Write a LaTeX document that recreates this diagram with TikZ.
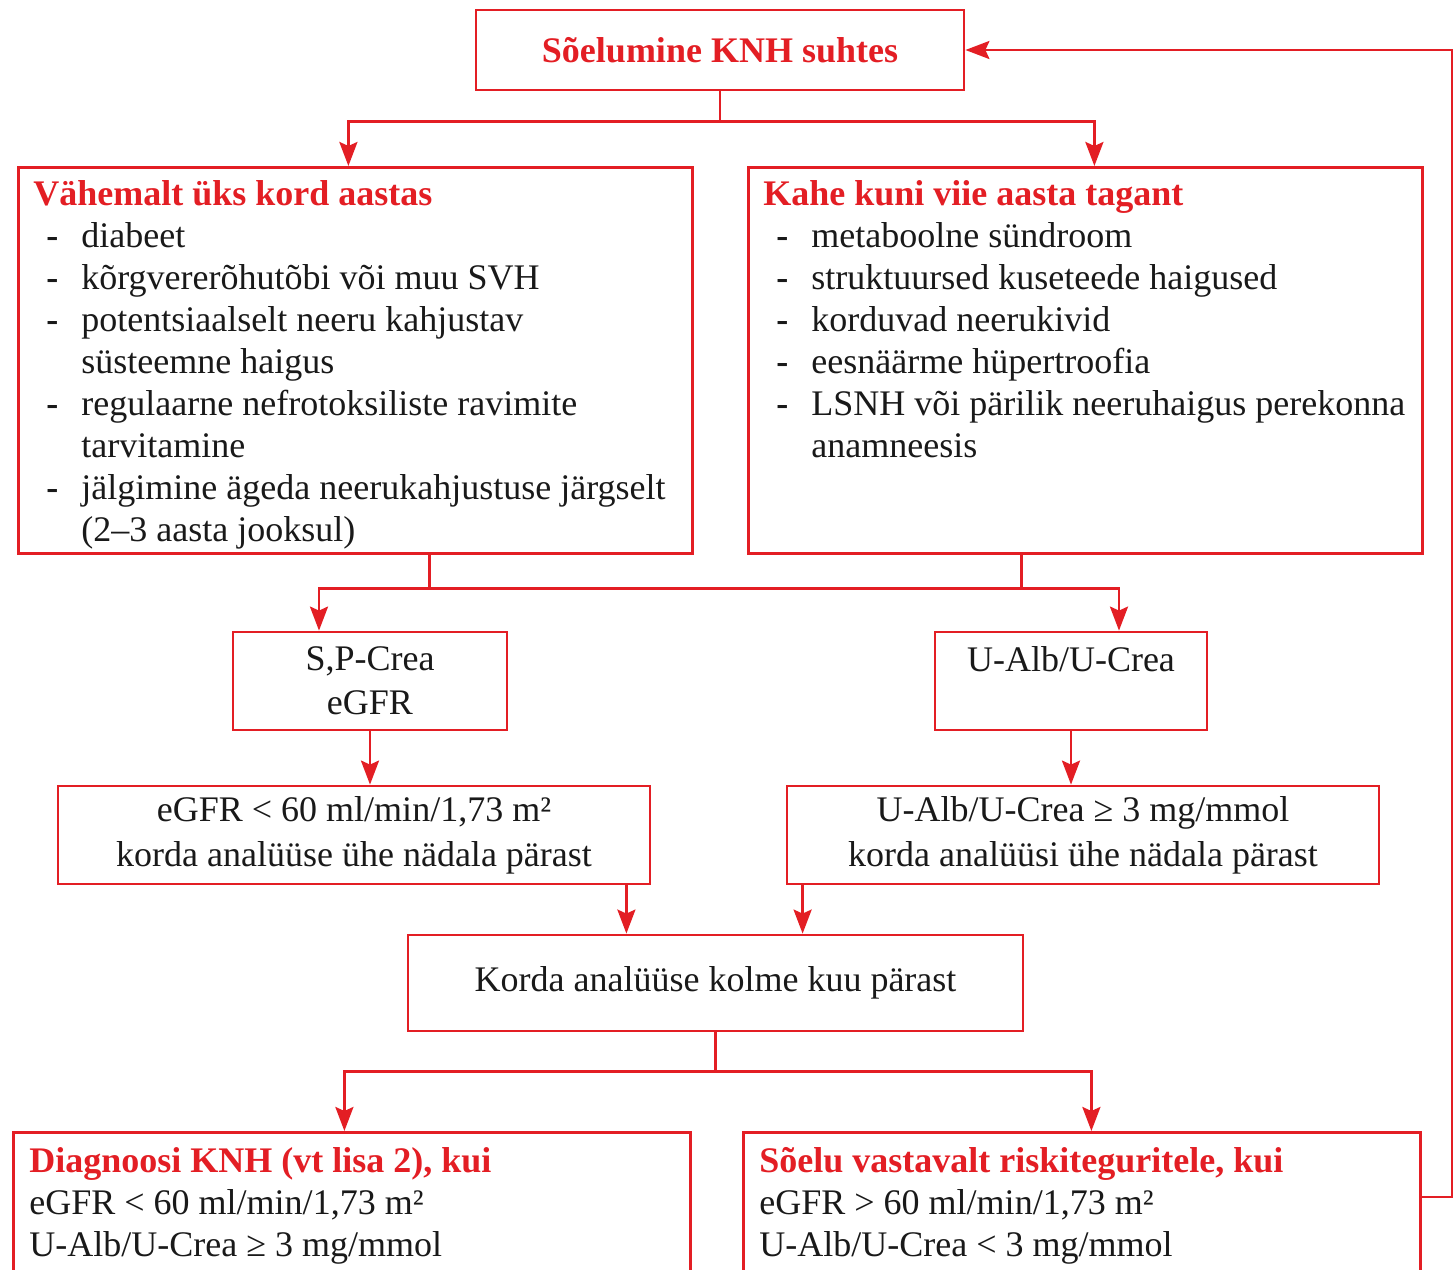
\documentclass[tikz,border=0pt]{standalone}
\usepackage{fontspec}
\setmainfont{Liberation Serif}
\usepackage{tikz}
\usetikzlibrary{arrows.meta,positioning,calc}
\definecolor{knhred}{RGB}{227,30,36}
\definecolor{knhtext}{RGB}{25,25,25}
\newcommand{\knhfont}{\fontsize{18}{21}\selectfont}
\newcommand{\knhhead}[1]{\textcolor{knhred}{\bfseries #1}\par}
\newcommand{\knhitem}[1]{\hangindent=24pt\hangafter=1\noindent\makebox[24pt][l]{\hspace{6.5pt}\textbf{-}}#1\par}
\tikzset{box/.style={draw=knhred,line width=1.4pt,inner sep=0pt,align=center,text=knhtext,font=\knhfont}}
\tikzset{listbox/.style={box,anchor=north west,align=flush left,text width=322pt,inner xsep=7.5pt,inner ysep=0pt,text height=19pt}}
\tikzset{conn/.style={draw=knhred,line width=1.4pt}}
\tikzset{arr/.style={conn,->}}

\begin{document}
\begin{tikzpicture}[x=0.5pt, y=-0.5pt, >={Stealth[length=12pt,width=9pt,inset=2pt]}]
    \useasboundingbox (0,0) rectangle (1453,1270);
    \node[box,minimum width=244pt,minimum height=40pt,text=knhred,font=\knhfont\bfseries] (screen) at (720,50) {Sõelumine KNH suhtes};

    \node[listbox,text depth=174pt] (yearly) at (17,166) {\knhhead{Vähemalt üks kord aastas}%
        \knhitem{diabeet}%
        \knhitem{kõrgvererõhutõbi või muu SVH}%
        \knhitem{potentsiaalselt neeru kahjustav\newline süsteemne haigus}%
        \knhitem{regulaarne nefrotoksiliste ravimite\newline tarvitamine}%
        \knhitem{\mbox{jälgimine ägeda neerukahjustuse järgselt}\newline (2–3 aasta jooksul)}};
    \node[listbox,text depth=174pt] (periodic) at (747,166) {\knhhead{Kahe kuni viie aasta tagant}%
        \knhitem{metaboolne sündroom}%
        \knhitem{struktuursed kuseteede haigused}%
        \knhitem{korduvad neerukivid}%
        \knhitem{eesnäärme hüpertroofia}%
        \knhitem{\mbox{LSNH või pärilik neeruhaigus perekonna}\newline anamneesis}};

    \node[box,minimum width=137pt,minimum height=49pt] (crea) at (370,681) {S,P-Crea\\[1pt]eGFR};
    \node[box,minimum width=136pt,minimum height=49pt] (alb) at (1071,681) {U-Alb/U-Crea\\[1pt]\phantom{U}};
    \node[box,minimum width=296pt,minimum height=49pt] (gfrlow) at (354,835) {eGFR < 60 ml/min/1,73 m²\\[1.5pt]korda analüüse ühe nädala pärast};
    \node[box,minimum width=296pt,minimum height=49pt] (albhigh) at (1083,835) {U-Alb/U-Crea ≥ 3 mg/mmol\\[1.5pt]korda analüüsi ühe nädala pärast};
    \node[box,minimum width=307.5pt,minimum height=48pt] (recheck) at (715.5,983) {Korda analüüse kolme kuu pärast};

    \node[listbox,text width=322.5pt,inner xsep=8pt,text height=20pt,text depth=60pt] (diagnose) at (12,1131) {\knhhead{Diagnoosi KNH (vt lisa 2), kui}%
        eGFR < 60 ml/min/1,73 m²\par U-Alb/U-Crea ≥ 3 mg/mmol};
    \node[listbox,text width=322.5pt,inner xsep=8pt,text height=20pt,text depth=60pt] (rescreen) at (742,1131) {\knhhead{Sõelu vastavalt riskiteguritele, kui}%
        eGFR > 60 ml/min/1,73 m²\par U-Alb/U-Crea < 3 mg/mmol};

    % screening splits in two
    \draw[conn] (screen.south) -- ++(0,30) coordinate (s1);
    \draw[arr] (s1) -| ([xshift=-3.5pt]yearly.north);
    \draw[arr] (s1) -| ([xshift=4.5pt]periodic.north);

    % both groups go to the tests
    \draw[conn] ([xshift=37pt]yearly.south) -- ++(0,34) coordinate (s2);
    \draw[conn] ([xshift=-32pt]periodic.south) -- ++(0,34) coordinate (s3);
    \draw[conn] (s2) -- (s3);
    \draw[arr] (s2) -| ([xshift=-25.5pt]crea.north);
    \draw[arr] (s3) -| ([xshift=24pt]alb.north);
    \draw[arr] (crea.south) -- (crea.south |- gfrlow.north);
    \draw[arr] (alb.south) -- (alb.south |- albhigh.north);
    \draw[arr] ([xshift=-12.5pt]gfrlow.south east) coordinate (g1) -- (g1 |- recheck.north);
    \draw[arr] ([xshift=8.5pt]albhigh.south west) coordinate (g2) -- (g2 |- recheck.north);

    % outcome
    \draw[conn] (recheck.south) -- ++(0,39) coordinate (s4);
    \draw[arr] (s4) -| ([xshift=-3.75pt]diagnose.north);
    \draw[arr] (s4) -| ([xshift=4.75pt]rescreen.north);
    \draw[arr] ([yshift=-33pt]rescreen.north east) -- ++(31,0) |- (screen.east);
\end{tikzpicture}
\end{document}
